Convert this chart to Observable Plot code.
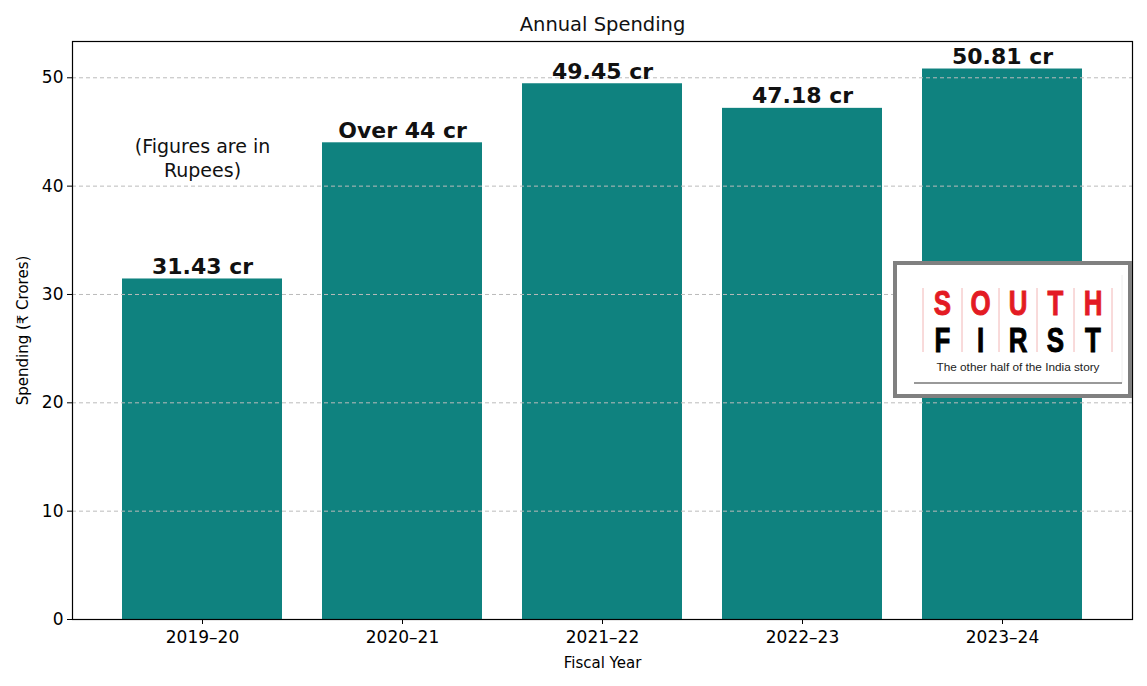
<!DOCTYPE html>
<html>
<head>
<meta charset="utf-8">
<script src="https://cdn.jsdelivr.net/npm/d3@7"></script>
<script src="https://cdn.jsdelivr.net/npm/@observablehq/plot@0.6"></script>
<style>
  html, body { margin: 0; padding: 0; background: #fff; }
  #chart svg { display: block; }
</style>
</head>
<body>
<div id="chart"></div>
<script>
const years = ["2019-20", "2020-21", "2021-22", "2022-23", "2023-24"];
const yearLabels = ["2019–20", "2020–21", "2021–22", "2022–23", "2023–24"];
const spending = [31.43, 44.0, 49.45, 47.18, 50.81];
const barLabels = ["31.43 cr", "Over 44 cr", "49.45 cr", "47.18 cr", "50.81 cr"];
const yTicks = [0, 10, 20, 30, 40, 50];
const noteText = "(Figures are in\nRupees)";
const noteYear = "2019-20";
const noteValue = 42.65;

const data = years.map((y, i) => ({year: y, value: spending[i], label: barLabels[i]}));
const FONT = "'DejaVu Sans', Inter, sans-serif";

const chart = Plot.plot({
  width: 1147,
  height: 686,
  marginLeft: 72,
  marginRight: 15,
  marginTop: 41,
  marginBottom: 67,
  style: {fontFamily: FONT, fontSize: "15px", color: "#000", background: "#fff", overflow: "visible"},
  x: {domain: years, paddingInner: 0.2, paddingOuter: 0.25, align: 0.5},
  y: {domain: [0, 53.35]},
  marks: [
    Plot.barY(data, {x: "year", y: "value", fill: "#0f827f"}),
    Plot.gridY(yTicks, {stroke: "#bbbbbb", strokeOpacity: 1, strokeDasharray: "4,3", strokeWidth: 1}),
    Plot.frame({stroke: "#000", strokeWidth: 1.2}),
    Plot.axisY(yTicks, {tickSize: 5, tickPadding: 4, fontSize: 17, label: null}),
    Plot.axisY({ticks: [], tickSize: 0, fontSize: 15, label: "Spending (₹ Crores)", labelAnchor: "center", labelArrow: "none", labelOffset: 55}),
    Plot.axisX({tickSize: 5, tickPadding: 6, fontSize: 17, tickFormat: (d) => yearLabels[years.indexOf(d)], label: null}),
    Plot.axisX({ticks: [], tickSize: 0, fontSize: 15, label: "Fiscal Year", labelAnchor: "center", labelArrow: "none", labelOffset: 48}),
    Plot.text(data, {x: "year", y: "value", text: "label", dy: -5, lineAnchor: "bottom", fontSize: 22, fontWeight: 700, fill: "#111"}),
    Plot.text([noteText], {x: [noteYear], y: [noteValue], fontSize: 19, lineHeight: 1.25, fill: "#111", letterSpacing: "0.9px"}),
    Plot.text(["Annual Spending"], {frameAnchor: "top", dy: -17, lineAnchor: "middle", fontSize: 19.5, fill: "#111"})
  ]
});
document.getElementById("chart").appendChild(chart);

// Decorative watermark logo (not data)
const svg = d3.select(chart);
const g = svg.append("g").attr("class", "logo");
g.append("rect").attr("x", 895).attr("y", 263).attr("width", 235).attr("height", 133)
  .attr("fill", "#fff").attr("stroke", "#808080").attr("stroke-width", 4);
g.append("line").attr("x1", 1122).attr("x2", 1122).attr("y1", 275).attr("y2", 383)
  .attr("stroke", "#eee").attr("stroke-width", 1);
[923, 962, 999, 1037, 1074, 1112].forEach(x => {
  g.append("line").attr("x1", x).attr("x2", x).attr("y1", 288).attr("y2", 352)
    .attr("stroke", "#f2b6b6").attr("stroke-width", 1);
});
const cols = [942.5, 980.5, 1018, 1055.5, 1093];
const LOGOFONT = "'Liberation Sans', Arial, sans-serif";
function letter(c, x, y, fill) {
  g.append("text").attr("transform", `translate(${x},${y}) scale(0.74,1)`)
    .attr("text-anchor", "middle")
    .attr("font-family", LOGOFONT).attr("font-weight", 700).attr("font-size", 35)
    .attr("fill", fill).attr("stroke", fill).attr("stroke-width", 1)
    .text(c);
}
"SOUTH".split("").forEach((c, i) => letter(c, cols[i], 315, "#e31b23"));
"FIRST".split("").forEach((c, i) => letter(c, cols[i], 352, "#000"));
g.append("text").attr("x", 1018).attr("y", 371).attr("text-anchor", "middle")
  .attr("font-family", "'Liberation Sans', Arial, sans-serif").attr("font-size", 11.5)
  .attr("fill", "#222").attr("textLength", 163).attr("lengthAdjust", "spacingAndGlyphs")
  .text("The other half of the India story");
g.append("line").attr("x1", 914).attr("x2", 1122).attr("y1", 383).attr("y2", 383)
  .attr("stroke", "#999").attr("stroke-width", 2);
</script>
</body>
</html>
